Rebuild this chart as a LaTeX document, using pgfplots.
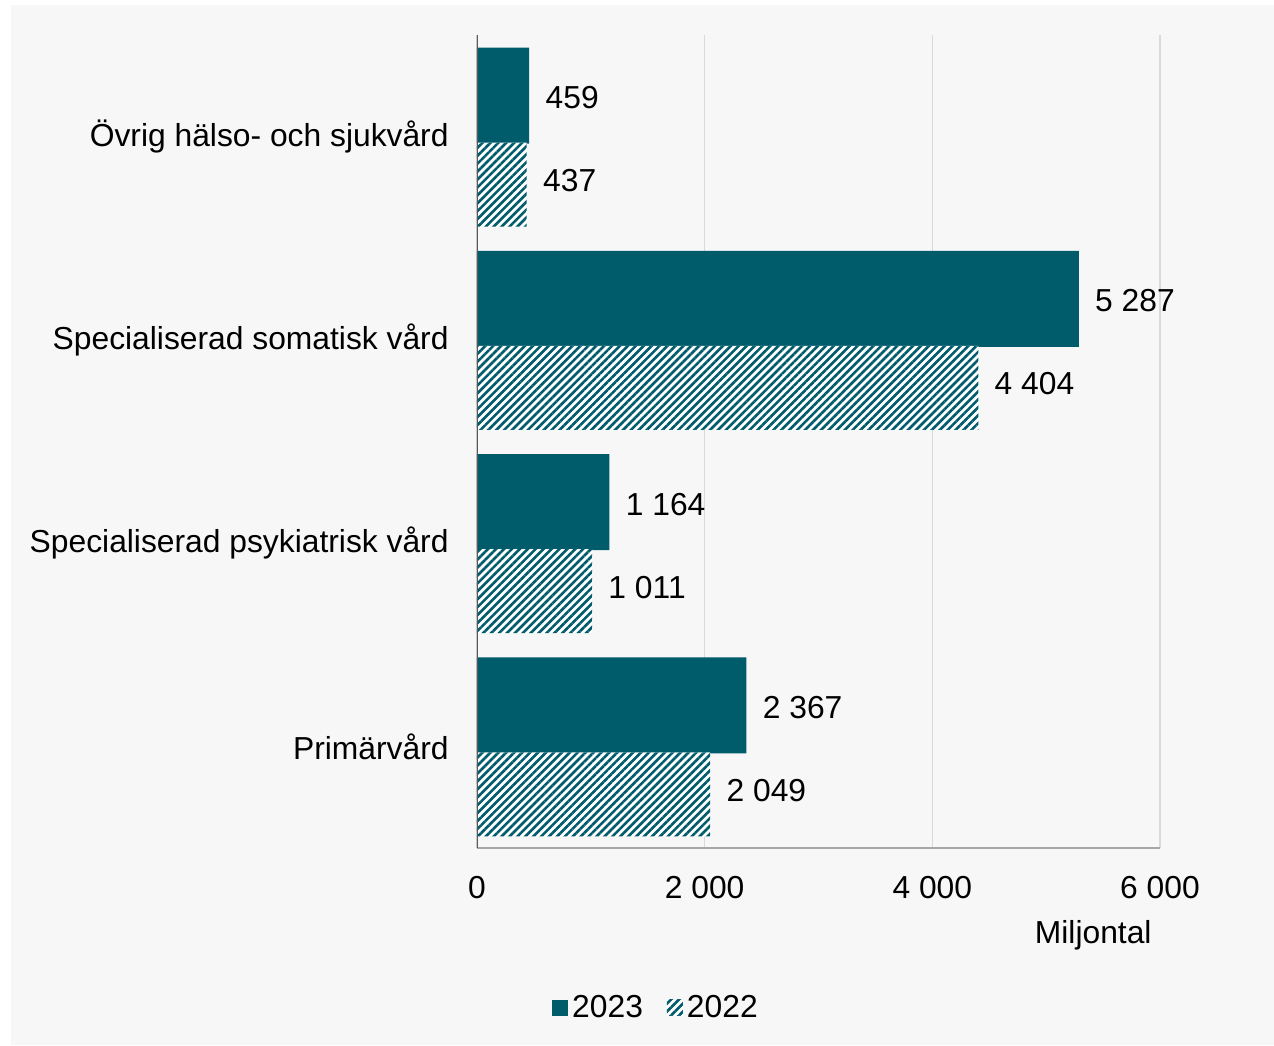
\documentclass[border=0pt]{standalone}
\usepackage{fontspec}
\setmainfont{Liberation Sans}
\usepackage{pgfplots}
\pgfplotsset{compat=1.18}
\usetikzlibrary{patterns.meta}
\definecolor{teal1}{HTML}{005B6B}
\definecolor{bg}{HTML}{F7F7F7}
\definecolor{gridc}{HTML}{D9D9D9}
\newcommand\f{\fontsize{15.9}{19}\selectfont}
\pgfplotsset{/pgf/number format/1000 sep={\ }, /pgf/number format/assume math mode=true}

\begin{document}
\begin{tikzpicture}
\path[use as bounding box] (-238.5pt,-98.5pt) rectangle (398.5pt,424pt);
\fill[bg] (-233pt,-98.5pt) rectangle (398.5pt,421.5pt);
\begin{axis}[
    at={(0,0)}, anchor=south west,
    scale only axis, width=341.5pt, height=406.5pt,
    xbar,
    xmin=0, xmax=6000, ymin=-0.5, ymax=3.5,
    xtick={0,2000,4000,6000}, scaled x ticks=false,
    ytick={0,1,2,3},
    yticklabels={Primärvård, Specialiserad psykiatrisk vård, Specialiserad somatisk vård, Övrig hälso- och sjukvård},
    axis x line*=bottom, axis y line*=left,
    x axis line style={draw=black!35, line width=1pt, -},
    y axis line style={draw=none},
    major tick length=0pt,
    xmajorgrids, grid style={gridc, line width=0.6pt},
    ticklabel style={font=\f},
    xticklabel style={anchor=base, inner sep=0pt, yshift=-25pt},
    yticklabel style={anchor=east, inner sep=0pt, xshift=-14pt},
    xlabel={Miljontal},
    x label style={at={(rel axis cs:1,0)}, anchor=base east, inner sep=0pt, yshift=-47.5pt, xshift=-4pt, font=\f},
    nodes near coords,
    every node near coord/.append style={font=\f, anchor=west, inner sep=0pt, xshift=8pt, text=black},
    legend style={draw=none, fill=none, font=\f, legend columns=2,
        at={(0.2635,-0.1968)}, anchor=center,
        /tikz/every even column/.append style={column sep=10pt},
        nodes={inner sep=2pt}},
    legend cell align=left,
    legend image code/.code={\path[#1] (0pt,-4pt) rectangle (8pt,4pt);},
]
\addplot+[draw=none, fill=teal1, bar width=48pt, bar shift=20.5pt,
    every node near coord/.append style={yshift=-1pt}] coordinates {
    (459,3) (5287,2) (1164,1) (2367,0)
};
\addlegendentry{2023}
\addplot+[draw=none, fill=white, bar width=42pt, bar shift=-24pt,
    postaction={pattern={Lines[angle=45,distance=2.8pt,line width=1.3pt]}, pattern color=teal1},
    every node near coord/.append style={yshift=2pt}] coordinates {
    (437,3) (4404,2) (1011,1) (2049,0)
};
\addlegendentry{2022}
\draw[black!65, line width=1pt] (axis cs:0,-0.5) -- (axis cs:0,3.5);
\end{axis}
\end{tikzpicture}
\end{document}
